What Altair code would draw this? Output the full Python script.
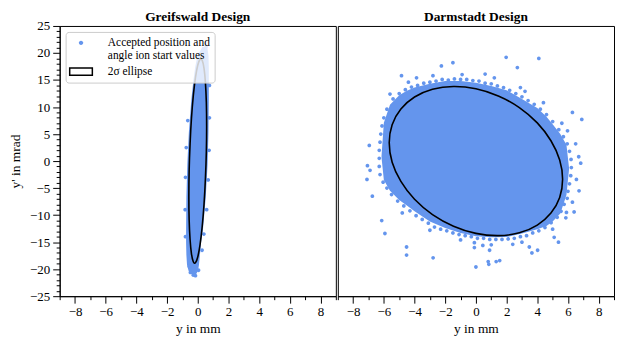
import altair as alt
import pandas as pd

FONT = "Liberation Serif"
BLUE = "#6495ED"
SERIES = ["Accepted position and angle ion start values", "2σ ellipse"]

# ---------------- Greifswald ----------------
# dense core (band of accepted points): for each y', left/right extent in y
G_CORE_Y = [-20.9, -20.3, -19.2, -17.4, -15.0, -12.6, -6.7, -0.7, 5.3, 11.3, 15.0, 17.3, 19.5, 21.1]
G_CORE_XL = [-0.42, -0.6, -0.7, -0.74, -0.76, -0.76, -0.74, -0.68, -0.58, -0.42, -0.28, -0.17, -0.02, 0.3]
G_CORE_XR = [-0.1, 0.02, 0.08, 0.14, 0.22, 0.34, 0.52, 0.64, 0.7, 0.72, 0.72, 0.72, 0.7, 0.62]
# individual points at the edge of the band
G_PTS_X = [0.55, 0.45, 0.76, 0.76, 0.74, 0.68, 0.58, 0.4, 0.28, -0.8, -0.82, -0.8, -0.75, -0.65, -0.55, -0.48, -0.3, -0.15, 0.05]
G_PTS_Y = [21.2, 20.6, 14.0, 8.0, 2.0, -3.5, -9.0, -13.5, -16.5, -14.0, -9.0, -3.0, 2.5, 7.5, -19.5, -20.6, -21.1, -21.2, -20.2]
# 2 sigma ellipse outline (vertices)
G_ELL_X = [0.58, 0.56, 0.50, 0.41, 0.29, 0.15, 0.0, -0.15, -0.29, -0.41, -0.50, -0.56,
           -0.58, -0.56, -0.50, -0.41, -0.29, -0.15, 0.0, 0.15, 0.29, 0.41, 0.50, 0.56]
G_ELL_Y = [6.52, 10.89, 14.52, 17.15, 18.62, 18.82, 17.74, 15.45, 12.10, 7.93, 3.22, -1.71,
           -6.52, -10.89, -14.52, -17.15, -18.62, -18.82, -17.74, -15.45, -12.10, -7.93, -3.22, 1.71]

# ---------------- Darmstadt ----------------
D_CORE_X = [-6.15, -6.0, -5.6, -5.0, -4.5, -4.0, -3.0, -2.0, -1.0, 0.0, 1.0, 2.0, 3.0, 4.0, 4.6, 5.0, 5.5, 5.9, 6.07]
D_CORE_TOP = [1.0, 7.1, 10.4, 12.2, 13.0, 13.6, 14.3, 14.8, 14.8, 14.5, 13.9, 13.1, 11.5, 9.8, 8.2, 6.8, 5.0, 3.0, -1.3]
D_CORE_BOT = [0.6, -3.5, -5.5, -7.2, -8.2, -9.3, -11.2, -12.4, -13.3, -13.9, -14.1, -14.05, -13.4, -12.6, -12.0, -11.2, -9.7, -6.3, -1.5]
D_PTS_X = [
    # top edge
    -5.8, -5.4, -5.0, -4.6, -4.2, -3.8, -3.4, -3.0, -2.6, -2.2, -1.8, -1.4, -1.0, -0.6, -0.2, 0.2, 0.6, 1.0,
    1.4, 1.8, 2.2, 2.6, 3.0, 3.4, 3.8, 4.2, 4.6, 5.0, 5.4, 5.7, 5.95, 6.1,
    -4.4, -2.8, -0.9, 1.2, 2.9, 4.4, 5.6, 3.2, -5.6,
    # right edge
    6.2, 6.22, 6.18, 6.1, 6.0, 5.95,
    # bottom edge
    5.75, 5.55, 5.3, 4.9, 4.5, 4.1, 3.7, 3.3, 2.9, 2.5, 2.1, 1.7, 1.3, 0.9, 0.5, 0.1, -0.3, -0.7, -1.1, -1.5,
    -1.9, -2.3, -2.7, -3.1, -3.5, -3.9, -4.3, -4.7, -5.1, -5.5, -5.8, -6.05,
    5.0, 3.0, 1.0, -1.0, -3.0, -4.8, 5.9,
    # left edge
    -6.25, -6.3, -6.3, -6.3, -6.25, -6.2, -6.12, -6.0,
    # outliers
    1.97, 4.1, 2.7, 0.6, -1.5, -2.25, -4.85, -3.87, 6.29, 6.9, 6.5, 5.97, -6.95, -7.07, -6.9, -7.1, -6.75, -6.14, -5.93,
    -4.52, -4.52, -2.79, 0.0, 0.8, 0.84, 1.32, 1.55, 0.89, 0.45, 2.4, -0.1, -0.1, 3.48, 4.02, 3.65, 5.1, 5.38, 6.4, 6.72,
    6.83, 6.29, 5.86, 6.55, 6.7,
]
D_PTS_Y = [
    # top edge
    9.6, 11.5, 12.5, 13.2, 13.7, 14.0, 14.4, 14.6, 14.8, 15.1, 15.0, 15.2, 15.1, 15.1, 14.9, 14.8, 14.4, 14.3,
    13.9, 13.6, 13.1, 12.5, 11.9, 11.2, 10.5, 9.6, 8.6, 7.3, 5.8, 4.5, 3.2, 1.8,
    14.6, 15.8, 16.0, 15.4, 13.6, 10.8, 7.0, 12.9, 12.4,
    # right edge
    0.3, -1.2, -2.7, -4.2, -5.6, -6.9,
    # bottom edge
    -8.0, -9.3, -10.4, -11.4, -12.3, -12.9, -13.3, -13.8, -14.0, -14.3, -14.4, -14.5, -14.5, -14.5, -14.3, -14.3, -14.0, -13.8, -13.6, -13.3,
    -12.9, -12.6, -12.2, -11.5, -10.8, -10.1, -9.2, -8.3, -7.4, -6.2, -5.0, -3.9,
    -12.6, -15.0, -15.5, -14.6, -12.8, -9.6, -9.5,
    # left edge
    -2.5, -1.0, 0.5, 2.0, 3.5, 5.0, 6.5, 8.0,
    # outliers
    19.2, 19.0, 17.3, 16.1, 18.2, 17.6, 15.8, 15.4, 9.0, 7.7, 3.2, 5.6, 2.9, -0.85, -1.7, -3.4, -6.5, -11.0, -13.4,
    -15.9, -17.4, -17.9, -19.6, -18.6, -19.1, -18.6, -18.4, -16.5, -15.6, -15.4, -15.1, -16.0, -15.9, -16.5, -17.0, -14.1, -15.0, -9.4, -5.5,
    -0.4, -7.6, -10.5, -3.4, 0.8,
]
D_ELL_X = [5.65, 5.46, 4.89, 4.0, 2.83, 1.46, 0.0, -1.46, -2.83, -4.0, -4.89, -5.46,
           -5.65, -5.46, -4.89, -4.0, -2.83, -1.46, 0.0, 1.46, 2.83, 4.0, 4.89, 5.46]
D_ELL_Y = [-3.38, 0.2, 3.76, 7.07, 9.9, 12.05, 13.38, 13.8, 13.28, 11.85, 9.62, 6.73,
           3.38, -0.2, -3.76, -7.07, -9.9, -12.05, -13.38, -13.8, -13.28, -11.85, -9.62, -6.73]

X_TICKS = list(range(-9, 10))
Y_TICKS = list(range(-25, 26))

CIRCLE_PATH = "M-0.37,0A0.37,0.37,0,1,0,0.37,0A0.37,0.37,0,1,0,-0.37,0Z"
RECT_PATH = "M-1.9,-0.62H1.9V0.62H-1.9Z"

fill_scale = alt.Scale(domain=SERIES, range=[BLUE, "white"])
stroke_scale = alt.Scale(domain=SERIES, range=["transparent", "black"])
shape_scale = alt.Scale(domain=SERIES, range=[CIRCLE_PATH, RECT_PATH])

LABEL_EXPR = ("datum.value == '" + SERIES[0] + "' ? ['Accepted position and', 'angle ion start values'] : datum.label")

legend = alt.Legend(
    title=None, orient="top-left", offset=6, padding=4,
    fillColor="rgba(255,255,255,0.8)", strokeColor="#cccccc", cornerRadius=3,
    labelFont=FONT, labelFontSize=11.5, labelColor="black", labelLimit=400,
    labelExpr=LABEL_EXPR, symbolSize=144, symbolStrokeWidth=1.5, rowPadding=3,
    symbolOffset=4.5, labelOffset=20,
)

x_scale = alt.Scale(domain=[-9, 9], nice=False, zero=False)
y_scale = alt.Scale(domain=[-25, 25], nice=False, zero=False)

x_axis = alt.Axis(
    values=X_TICKS, labelExpr="datum.value % 2 === 0 ? datum.label : ''",
    tickSize={"condition": {"test": "datum.value % 2 === 0", "value": 7}, "value": 3.5},
    labelOverlap=False, title="y in mm", labelPadding=2, titlePadding=4, labelFlush=False,
)
y_axis = alt.Axis(
    values=Y_TICKS, labelExpr="datum.value % 5 === 0 ? datum.label : ''",
    tickSize={"condition": {"test": "datum.value % 5 === 0", "value": 7}, "value": 3.5},
    labelOverlap=False, title="y' in mrad", labelPadding=3, titlePadding=7,
)


def panel(title, core, pts_x, pts_y, ell_x, ell_y, show_y, horizontal_core, title_offset):
    yax = y_axis if show_y else None
    if horizontal_core:
        core_df = pd.DataFrame({"y": core[0], "xl": core[1], "xr": core[2]})
        core_layer = alt.Chart(core_df).mark_area(color=BLUE, orient="horizontal", opacity=1).encode(
            y=alt.Y("y:Q", scale=y_scale, axis=yax),
            x=alt.X("xl:Q", scale=x_scale, axis=x_axis),
            x2="xr:Q",
        )
    else:
        core_df = pd.DataFrame({"x": core[0], "top": core[1], "bot": core[2]})
        core_layer = alt.Chart(core_df).mark_area(color=BLUE, orient="vertical", opacity=1).encode(
            x=alt.X("x:Q", scale=x_scale, axis=x_axis),
            y=alt.Y("top:Q", scale=y_scale, axis=yax),
            y2="bot:Q",
        )
    pts_df = pd.DataFrame({"x": pts_x, "y": pts_y, "series": SERIES[0]})
    pts_layer = alt.Chart(pts_df).mark_point(filled=True, size=105, opacity=1).encode(
        x=alt.X("x:Q", scale=x_scale, axis=x_axis),
        y=alt.Y("y:Q", scale=y_scale, axis=yax),
        fill=alt.Fill("series:N", scale=fill_scale, legend=legend),
        stroke=alt.Stroke("series:N", scale=stroke_scale, legend=legend),
        shape=alt.Shape("series:N", scale=shape_scale, legend=legend),
    )
    ell_df = pd.DataFrame({"x": ell_x, "y": ell_y, "i": list(range(len(ell_x))), "series": SERIES[1]})
    ell_layer = alt.Chart(ell_df).mark_line(strokeWidth=1.6, interpolate="cardinal-closed").encode(
        x=alt.X("x:Q", scale=x_scale, axis=x_axis),
        y=alt.Y("y:Q", scale=y_scale, axis=yax),
        order=alt.Order("i:Q"),
        stroke=alt.Stroke("series:N", scale=stroke_scale, legend=None),
    )
    return alt.layer(core_layer, pts_layer, ell_layer).properties(
        width=278, height=272,
        title=alt.TitleParams(title, font=FONT, fontSize=13.5, fontWeight="bold", color="black",
                              offset=title_offset, frame="group"),
    )


left = panel("Greifswald Design", (G_CORE_Y, G_CORE_XL, G_CORE_XR), G_PTS_X, G_PTS_Y,
             G_ELL_X, G_ELL_Y, True, True, -3.5)
right = panel("Darmstadt Design", (D_CORE_X, D_CORE_TOP, D_CORE_BOT), D_PTS_X, D_PTS_Y,
              D_ELL_X, D_ELL_Y, False, False, 3)

chart = alt.hconcat(left, right, spacing=0).properties(
    padding={"left": 0, "top": 0, "right": 0, "bottom": 0}
).configure_view(
    stroke="black", strokeWidth=1
).configure_axis(
    domainColor="black", tickColor="black", labelColor="black", titleColor="black",
    labelFont=FONT, titleFont=FONT, labelFontSize=13, titleFontSize=13.5,
    titleFontWeight="normal", grid=False, domainWidth=1, tickWidth=1,
)

chart.save("out.html", embed_options={"renderer": "svg", "actions": False})
